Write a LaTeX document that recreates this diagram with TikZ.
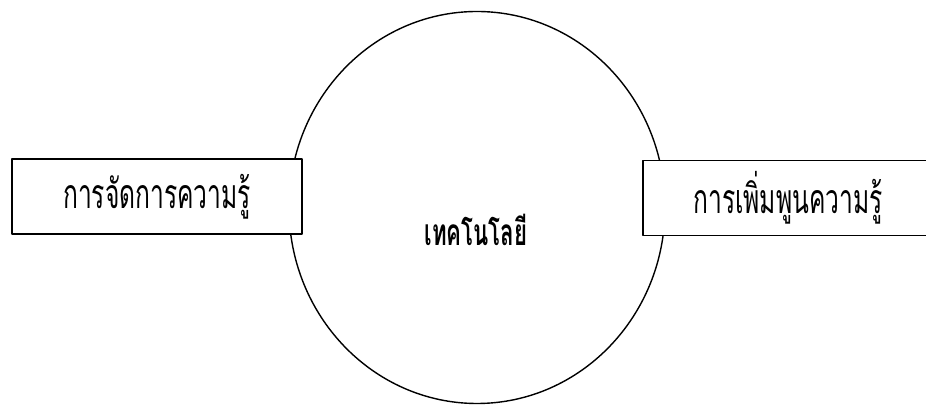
\documentclass[tikz,border=0pt]{standalone}
\usepackage{fontspec}
\newfontfamily\thaifont[Script=Thai,FakeStretch=0.6]{Loma}
\begin{document}
\begin{tikzpicture}[x=1pt, y=1pt, line join=round, line cap=round]
	\def\cx{477} \def\cy{198.5} \def\rx{188} \def\ry{196} % ellipse
	\tikzset{kbox/.style={draw, line width=1.4pt, fill=white, minimum width=290pt, minimum height=75pt, inner sep=0pt, font=\thaifont\fontsize{41}{48}\selectfont}}
	\useasboundingbox (0,0) rectangle (926,406);
	\clip (0,0) rectangle (926,406);
	\draw[line width=1.4pt] (\cx,\cy) ellipse [x radius=\rx, y radius=\ry];
	\node[font=\thaifont\bfseries\fontsize{37}{44}\selectfont] (tech) at (476,176) {เทคโนโลยี};
	\node[kbox] (manage) at (157,209.5) {การจัดการความรู้};
	\node[kbox] (grow) at (788,208) {การเพิ่มพูนความรู้};
\end{tikzpicture}
\end{document}
